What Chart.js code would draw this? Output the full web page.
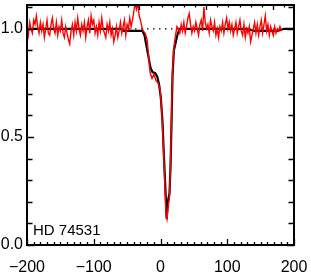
<!DOCTYPE html>
<html>
<head>
<meta charset="utf-8">
<script src="https://cdn.jsdelivr.net/npm/chart.js@4"></script>
<style>
  html, body { margin: 0; padding: 0; background: #fff; }
</style>
</head>
<body>
<canvas id="lineChart" width="311" height="273"></canvas>
<script>
// Наблюдаемый профиль линии (скорость, км/с -> нормированный поток)
const obsVel = [
  -200, -198, -196, -194, -192, -190, -188, -186, -184, -182,
  -180, -178, -176, -174, -172, -170, -168, -166, -164, -162,
  -160, -158, -156, -154, -152, -150, -148, -146, -144, -142,
  -140, -138, -136, -134, -132, -130, -128, -126, -124, -122,
  -120, -118, -116, -114, -112, -110, -108, -106, -104, -102,
  -100, -98, -96, -94, -92, -90, -88, -86, -84, -82,
  -80, -78, -76, -74, -72, -70, -68, -66, -64, -62,
  -60, -58, -56, -54, -52, -50, -48, -46, -44, -42,
  -40, -38, -36, -34, -32, -30, -28, -26,
  // ядро линии
  -23, -20, -18, -15.7, -12.7, -9.7, -6.7, -3.7, -0.7, 1.5, 3.7, 6, 8.2, 9.7, 11.2,
  13.5, 15, 16.5, 18, 20.2, 22.5, 24.7,
  27, 29, 31, 33, 35, 37, 39, 41, 43, 45,
  47, 49, 51, 53, 55, 57, 59, 61, 63, 65,
  67, 69, 71, 73, 75, 77, 79, 81, 83, 85,
  87, 89, 91, 93, 95, 97, 99, 101, 103, 105,
  107, 109, 111, 113, 115, 117, 119, 121, 123, 125,
  127, 129, 131, 133, 135, 137, 139, 141, 143, 145,
  147, 149, 151, 153, 155, 157, 159, 161, 163, 165,
  167, 169, 171, 173, 175, 177, 179, 181
];
const obsFlux = [
  1.01, 0.97, 1.03, 1.00, 0.98, 1.04, 1.02, 1.06, 1.01, 0.98,
  1.03, 0.99, 1.02, 0.96, 1.00, 1.04, 0.98, 0.97, 1.02, 1.05,
  1.00, 0.98, 1.03, 0.97, 1.01, 0.99, 1.04, 0.98, 0.96, 1.01,
  0.98, 0.95, 0.93, 0.99, 1.02, 0.97, 1.03, 0.99, 1.05, 1.00,
  0.97, 1.02, 0.99, 1.03, 0.96, 1.01, 1.04, 0.98, 1.06, 1.02,
  1.04, 0.98, 1.01, 0.97, 1.03, 0.99, 1.05, 1.00, 0.98, 0.96,
  1.02, 0.99, 1.03, 0.97, 1.00, 0.94, 0.97, 1.01, 0.96, 0.99,
  1.03, 0.98, 1.01, 1.04, 0.97, 1.02, 1.00, 1.05, 1.01, 1.04,
  1.08, 1.12, 1.09, 1.12, 1.06, 1.04, 1.01, 0.99,
  0.98, 0.95, 0.88, 0.80, 0.77, 0.79, 0.76, 0.75, 0.72, 0.64, 0.50, 0.32, 0.14, 0.12, 0.17,
  0.22, 0.38, 0.60, 0.80, 0.92, 0.97, 1.01,
  1.00, 0.98, 1.02, 0.99, 1.03, 0.98, 1.01, 1.05, 1.07, 1.02,
  0.98, 1.01, 0.99, 1.03, 1.00, 0.97, 1.02, 1.04, 0.99, 1.10,
  1.03, 1.00, 1.02, 0.98, 1.04, 1.01, 0.99, 1.03, 0.97, 1.00,
  0.96, 1.01, 0.99, 1.03, 0.98, 1.02, 1.05, 1.00, 1.03, 0.99,
  1.02, 0.97, 1.00, 1.03, 0.98, 1.01, 1.04, 0.99, 0.97, 1.02,
  0.96, 1.00, 0.98, 1.01, 0.94, 0.97, 1.00, 1.03, 0.98, 1.02,
  0.97, 1.01, 1.04, 0.98, 1.02, 1.06, 0.99, 1.02, 0.97, 1.01,
  0.99, 0.97, 1.01, 0.98, 1.00, 0.99, 1.01, 0.99
];

// Модельный профиль (чёрная линия)
const modelVel = [-200, -60, -55, -27, -24, -21, -18, -15, -12, -8, -5, -2, 0.5, 3, 5, 7.5, 9.3,
  11, 13.5, 15, 16.5, 18, 20, 23, 26, 29, 130, 140, 175, 185, 200];
const modelFlux = [1.0, 1.0, 0.99, 0.99, 0.97, 0.92, 0.87, 0.82, 0.80, 0.795, 0.78, 0.74, 0.68,
  0.57, 0.42, 0.25, 0.12, 0.20, 0.24, 0.36, 0.56, 0.78, 0.90, 0.94, 0.98, 1.0, 1.0, 0.99, 0.99, 1.0, 1.0];

// Уровень континуума (пунктир)
const contVel = [-200, 200];
const contFlux = [1.0, 1.0];

const starName = "HD 74531";
const yLabelValues = [0, 0.5, 1.0];

const FONT = "'Liberation Sans', Arial, sans-serif";

function toPoints(xs, ys) {
  return xs.map((x, i) => ({ x, y: ys[i] }));
}

// Рамка, засечки внутрь и подпись звезды (в стиле IDL)
const frameTicks = {
  id: "frameTicks",
  afterDraw(chart) {
    const { ctx, chartArea: a, scales } = chart;
    const xs = scales.x, ys = scales.y;
    ctx.save();
    ctx.strokeStyle = "#000";
    ctx.lineWidth = 1.3;
    ctx.beginPath();
    // нижняя ось
    for (let v = -200; v <= 200; v += 10) {
      const px = Math.round(xs.getPixelForValue(v)) + 0.5;
      const len = v % 100 === 0 ? 6 : 3;
      ctx.moveTo(px, a.bottom);
      ctx.lineTo(px, a.bottom - len);
    }
    // верхняя ось (другая шкала)
    for (let k = -1; k <= 25; k++) {
      const v = -131.5 + (k * 100) / 6;
      if (v < -200 || v > 200) continue;
      const px = Math.round(xs.getPixelForValue(v)) + 0.5;
      const len = k % 6 === 0 ? 5 : 2.5;
      ctx.moveTo(px, a.top);
      ctx.lineTo(px, a.top + len);
    }
    // левая и правая оси
    for (let i = 0; i <= 11; i++) {
      const py = Math.round(ys.getPixelForValue(i / 10)) + 0.5;
      const len = i % 5 === 0 ? 7 : 5.5;
      ctx.moveTo(a.left, py);
      ctx.lineTo(a.left + len, py);
      ctx.moveTo(a.right, py);
      ctx.lineTo(a.right - len, py);
    }
    ctx.stroke();
    ctx.lineWidth = 2;
    ctx.strokeRect(a.left, a.top, a.right - a.left, a.bottom - a.top);
    ctx.fillStyle = "#000";
    ctx.font = "15px " + FONT;
    ctx.textAlign = "left";
    ctx.textBaseline = "alphabetic";
    ctx.fillText(starName, a.left + 6, a.bottom - 10);
    ctx.restore();
  },
};

const ctx = document.getElementById("lineChart").getContext("2d");
new Chart(ctx, {
  type: "line",
  data: {
    datasets: [
      {
        label: starName,
        data: toPoints(obsVel, obsFlux),
        borderColor: "#ff0000",
        borderWidth: 1.4,
        pointRadius: 0,
        tension: 0,
      },
      {
        label: "model",
        data: toPoints(modelVel, modelFlux),
        borderColor: "#000",
        borderWidth: 2.2,
        pointRadius: 0,
        tension: 0,
      },
      {
        label: "continuum",
        data: toPoints(contVel, contFlux),
        borderColor: "#000",
        borderWidth: 1.3,
        borderDash: [1.5, 4.5],
        pointRadius: 0,
      },
    ],
  },
  options: {
    responsive: false,
    animation: false,
    layout: { padding: { top: 5, right: 17, left: 0, bottom: 0 } },
    plugins: { legend: { display: false }, tooltip: { enabled: false } },
    scales: {
      x: {
        type: "linear",
        min: -200,
        max: 200,
        afterFit: (s) => {
          s.height = 28;
          s.paddingLeft = 0;
          s.paddingRight = 0;
        },
        grid: { display: false, drawTicks: false, tickLength: 0 },
        border: { display: false },
        ticks: {
          stepSize: 100,
          autoSkip: false,
          maxRotation: 0,
          padding: 13,
          color: "#000",
          font: { family: FONT, size: 16 },
          callback: (v) => (v % 100 === 0 ? String(v).replace("-", "\u2212") : ""),
        },
      },
      y: {
        type: "linear",
        min: 0,
        max: 1.11,
        afterFit: (s) => {
          s.width = 27;
          s.paddingTop = 0;
          s.paddingBottom = 0;
        },
        grid: { display: false, drawTicks: false, tickLength: 0 },
        border: { display: false },
        ticks: {
          stepSize: 0.1,
          autoSkip: false,
          padding: 4,
          color: "#000",
          font: { family: FONT, size: 16 },
          callback: (v) =>
            yLabelValues.some((t) => Math.abs(t - v) < 1e-6) ? v.toFixed(1) : "",
        },
      },
    },
  },
  plugins: [frameTicks],
});
</script>
</body>
</html>
